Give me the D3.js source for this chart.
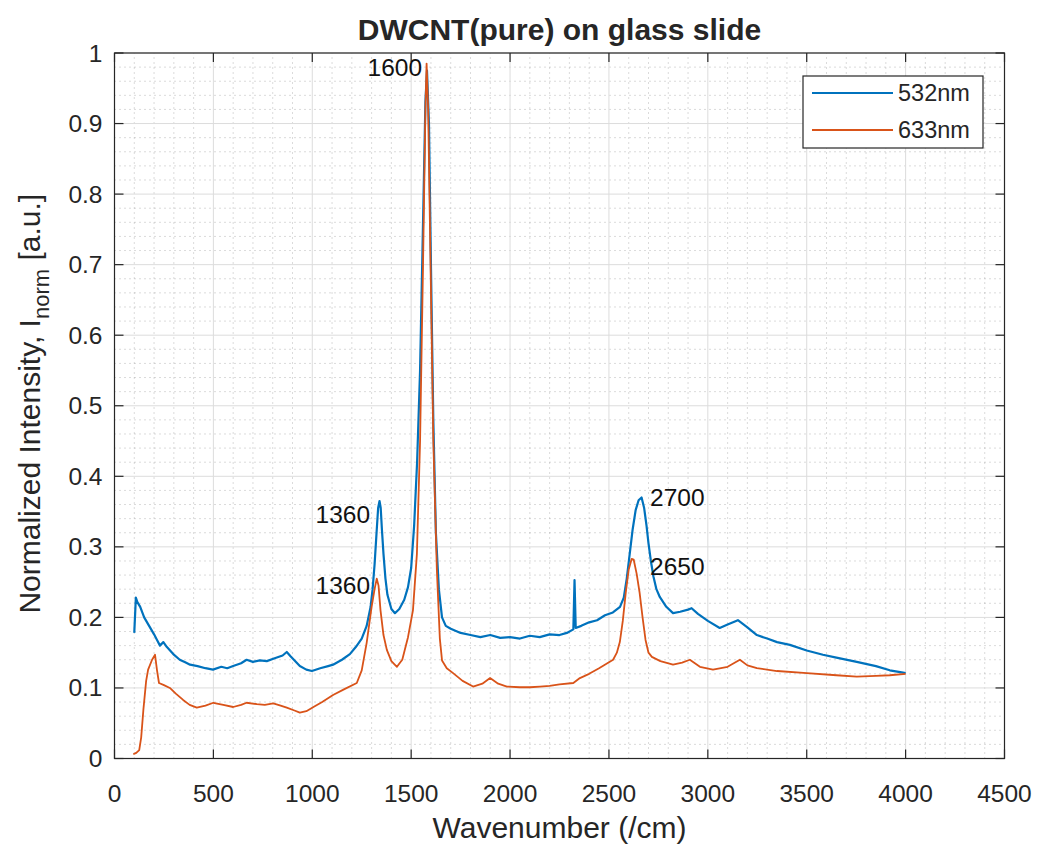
<!DOCTYPE html>
<html>
<head>
<meta charset="utf-8">
<script src="https://cdn.jsdelivr.net/npm/d3@7"></script>
<style>
  body { margin: 0; background: #fff; }
  text { font-family: "Liberation Sans", Arial, sans-serif; fill: #262626; }
</style>
</head>
<body>
<svg id="chart" width="1039" height="844"></svg>
<script>
// Raman spectra: wavenumber (/cm) and normalized intensity
var wave532 = [100, 108, 115, 130, 150, 175, 200, 215, 230, 247, 265, 297, 330, 360, 382, 420, 460, 498, 540, 570,
  600, 640, 668, 700, 735, 770, 810, 850, 871, 890, 937, 970, 998, 1040, 1080, 1105, 1150, 1190, 1220, 1250,
  1275, 1295, 1305, 1315, 1325, 1333, 1340, 1346, 1352, 1360, 1370, 1380, 1400, 1418, 1440, 1465, 1484, 1500, 1515, 1530,
  1545, 1560, 1572, 1580, 1590, 1600, 1612, 1625, 1640, 1656, 1675, 1700, 1750, 1800, 1850, 1900, 1950, 2000, 2050, 2100,
  2150, 2200, 2250, 2287, 2320, 2326, 2332, 2360, 2400, 2440, 2480, 2520, 2556, 2575, 2590, 2605, 2620, 2635, 2650, 2665,
  2678, 2690, 2700, 2712, 2725, 2740, 2757, 2790, 2824, 2860, 2900, 2918, 2950, 3000, 3060, 3100, 3152, 3200, 3248, 3300,
  3350, 3415, 3500, 3582, 3650, 3753, 3850, 3920, 3980, 4000]
var int532 = [0.178, 0.228, 0.222, 0.215, 0.200, 0.188, 0.176, 0.168, 0.160, 0.165, 0.158, 0.148, 0.140, 0.136, 0.133, 0.131, 0.128, 0.126, 0.130, 0.128,
  0.131, 0.135, 0.140, 0.137, 0.139, 0.138, 0.142, 0.146, 0.151, 0.145, 0.131, 0.126, 0.124, 0.128, 0.131, 0.133, 0.140, 0.148, 0.158, 0.170,
  0.188, 0.215, 0.240, 0.275, 0.320, 0.355, 0.365, 0.355, 0.325, 0.290, 0.255, 0.232, 0.212, 0.206, 0.212, 0.225, 0.243, 0.270, 0.330, 0.420,
  0.550, 0.760, 0.930, 0.975, 0.900, 0.700, 0.480, 0.320, 0.240, 0.200, 0.188, 0.184, 0.178, 0.175, 0.172, 0.175, 0.171, 0.172, 0.170, 0.174,
  0.172, 0.176, 0.175, 0.178, 0.183, 0.253, 0.185, 0.188, 0.193, 0.196, 0.203, 0.207, 0.215, 0.228, 0.255, 0.290, 0.325, 0.352, 0.366, 0.370,
  0.355, 0.330, 0.305, 0.280, 0.258, 0.240, 0.229, 0.215, 0.206, 0.208, 0.211, 0.213, 0.205, 0.195, 0.185, 0.190, 0.196, 0.186, 0.175, 0.170,
  0.165, 0.161, 0.153, 0.147, 0.143, 0.137, 0.131, 0.125, 0.122, 0.121]

var wave633 = [95, 110, 125, 135, 146, 160, 170, 190, 205, 215, 225, 250, 280, 310, 347, 380, 416, 460, 500, 550,
  600, 640, 668, 720, 760, 803, 840, 871, 910, 937, 970, 1006, 1050, 1105, 1160, 1225, 1250, 1275, 1300, 1315,
  1326, 1335, 1345, 1360, 1377, 1400, 1428, 1455, 1484, 1509, 1529, 1545, 1560, 1572, 1578, 1586, 1598, 1612, 1630, 1645,
  1656, 1680, 1712, 1760, 1813, 1860, 1899, 1940, 1984, 2050, 2100, 2151, 2200, 2250, 2320, 2353, 2400, 2450, 2521, 2540,
  2555, 2570, 2585, 2600, 2615, 2625, 2640, 2655, 2670, 2685, 2700, 2717, 2760, 2824, 2870, 2909, 2960, 3026, 3100, 3162,
  3200, 3248, 3350, 3501, 3650, 3753, 3850, 3920, 4000]
var int633 = [0.006, 0.008, 0.012, 0.030, 0.069, 0.110, 0.126, 0.140, 0.147, 0.125, 0.107, 0.104, 0.100, 0.092, 0.083, 0.076, 0.072, 0.075, 0.079, 0.076,
  0.073, 0.076, 0.079, 0.077, 0.076, 0.078, 0.075, 0.072, 0.068, 0.065, 0.067, 0.073, 0.080, 0.090, 0.098, 0.107, 0.125, 0.164, 0.215, 0.240,
  0.255, 0.245, 0.210, 0.175, 0.154, 0.138, 0.130, 0.140, 0.172, 0.210, 0.290, 0.450, 0.700, 0.920, 0.985, 0.920, 0.700, 0.450, 0.267, 0.170,
  0.139, 0.128, 0.121, 0.110, 0.102, 0.106, 0.114, 0.106, 0.102, 0.101, 0.101, 0.102, 0.103, 0.105, 0.107, 0.114, 0.120, 0.128, 0.140, 0.150,
  0.165, 0.195, 0.235, 0.268, 0.283, 0.282, 0.262, 0.235, 0.200, 0.168, 0.150, 0.144, 0.138, 0.133, 0.136, 0.140, 0.130, 0.126, 0.130, 0.140,
  0.132, 0.128, 0.124, 0.121, 0.118, 0.116, 0.117, 0.118, 0.120]

var seriesNames = ['532nm', '633nm']
var seriesColors = ['#0072BD', '#D95319']

// peak labels, placed in data units like text(x, y, str)
var peakLabels = ['1600', '1360', '1360', '2700', '2650']
var peakLabelX = [1555, 1292, 1292, 2708, 2708]
var peakLabelY = [0.980, 0.346, 0.245, 0.370, 0.272]
var peakLabelAlign = ['end', 'end', 'end', 'start', 'start']

var xTicks = d3.range(0, 4501, 500)
var yTicks = d3.range(0, 11).map((i) => i / 10)

var W = 1039
,   H = 844
,   margin = {left: 114.5, right: W - 1004.5, top: 53, bottom: H - 758.5}

var svg = d3.select('#chart')

var x = d3.scaleLinear().domain([0, 4500]).range([margin.left, W - margin.right])
var y = d3.scaleLinear().domain([0, 1]).range([H - margin.bottom, margin.top])

var plot = svg.append('g')

// minor grid (dotted)
var xMinor = d3.range(0, 4501, 100).filter((v) => v % 500 !== 0)
var yMinor = d3.range(0, 51).map((i) => i / 50).filter((v, i) => i % 5 !== 0)

plot.selectAll('.gx-minor').data(xMinor).enter().append('line')
  .attr('x1', (d) => x(d)).attr('x2', (d) => x(d))
  .attr('y1', y(0)).attr('y2', y(1))
  .attr('stroke', '#9a9a9a').attr('stroke-width', 1).attr('stroke-dasharray', '1,4')
  .attr('opacity', 0.7)

plot.selectAll('.gy-minor').data(yMinor).enter().append('line')
  .attr('x1', x(0)).attr('x2', x(4500))
  .attr('y1', (d) => y(d)).attr('y2', (d) => y(d))
  .attr('stroke', '#9a9a9a').attr('stroke-width', 1).attr('stroke-dasharray', '1,4')
  .attr('opacity', 0.7)

// major grid
plot.selectAll('.gx').data(xTicks).enter().append('line')
  .attr('x1', (d) => x(d)).attr('x2', (d) => x(d))
  .attr('y1', y(0)).attr('y2', y(1))
  .attr('stroke', '#dcdcdc').attr('stroke-width', 1)

plot.selectAll('.gy').data(yTicks).enter().append('line')
  .attr('x1', x(0)).attr('x2', x(4500))
  .attr('y1', (d) => y(d)).attr('y2', (d) => y(d))
  .attr('stroke', '#dcdcdc').attr('stroke-width', 1)

// spectra
var line = d3.line().x((d) => x(d[0])).y((d) => y(d[1]))
var series = [d3.zip(wave532, int532), d3.zip(wave633, int633)]
var widths = [2.2, 1.8]

series.forEach(function(pts, i) {
  plot.append('path')
    .datum(pts)
    .attr('d', line)
    .attr('fill', 'none')
    .attr('stroke', seriesColors[i])
    .attr('stroke-width', widths[i])
    .attr('stroke-linejoin', 'round')
})

// axes, ticks inward on all four sides (box on)
var tickLen = 9
var axisColor = '#262626'
svg.append('rect')
  .attr('x', x(0)).attr('y', y(1))
  .attr('width', x(4500) - x(0)).attr('height', y(0) - y(1))
  .attr('fill', 'none').attr('stroke', axisColor).attr('stroke-width', 1.2)

var ticksG = svg.append('g').attr('stroke', axisColor).attr('stroke-width', 1.2)
xTicks.forEach(function(v) {
  ticksG.append('line').attr('x1', x(v)).attr('x2', x(v)).attr('y1', y(0)).attr('y2', y(0) - tickLen)
  ticksG.append('line').attr('x1', x(v)).attr('x2', x(v)).attr('y1', y(1)).attr('y2', y(1) + tickLen)
})
yTicks.forEach(function(v) {
  ticksG.append('line').attr('x1', x(0)).attr('x2', x(0) + tickLen).attr('y1', y(v)).attr('y2', y(v))
  ticksG.append('line').attr('x1', x(4500)).attr('x2', x(4500) - tickLen).attr('y1', y(v)).attr('y2', y(v))
})

var fmtY = (d) => d === 0 ? '0' : d === 1 ? '1' : d3.format('.1f')(d)

svg.selectAll('.xt').data(xTicks).enter().append('text')
  .attr('x', (d) => x(d)).attr('y', y(0) + 43)
  .attr('text-anchor', 'middle')
  .style('font-size', '24.5px')
  .text((d) => d)

svg.selectAll('.yt').data(yTicks).enter().append('text')
  .attr('x', x(0) - 12).attr('y', (d) => y(d) + 8.5)
  .attr('text-anchor', 'end')
  .style('font-size', '24.5px')
  .text(fmtY)

// title and axis labels
svg.append('text')
  .attr('x', (x(0) + x(4500)) / 2).attr('y', 40)
  .attr('text-anchor', 'middle')
  .style('font-size', '30px').style('font-weight', 'bold')
  .text('DWCNT(pure) on glass slide')

svg.append('text')
  .attr('x', (x(0) + x(4500)) / 2).attr('y', 838)
  .attr('text-anchor', 'middle')
  .style('font-size', '30px')
  .text('Wavenumber (/cm)')

var yl = svg.append('text')
  .attr('transform', 'translate(40,' + ((y(0) + y(1)) / 2 - 2) + ') rotate(-90)')
  .attr('text-anchor', 'middle')
  .style('font-size', '30px')
yl.append('tspan').text('Normalized Intensity, I')
yl.append('tspan').attr('dy', 9).style('font-size', '22px').text('norm')
yl.append('tspan').attr('dy', -9).text(' [a.u.]')

// peak labels
peakLabels.forEach(function(t, i) {
  svg.append('text')
    .attr('x', x(peakLabelX[i])).attr('y', y(peakLabelY[i]))
    .attr('dy', '0.35em')
    .attr('text-anchor', peakLabelAlign[i])
    .style('font-size', '24.5px').style('fill', '#111')
    .text(t)
})

// legend
var lg = svg.append('g').attr('transform', 'translate(803,76)')
lg.append('rect').attr('width', 180).attr('height', 72)
  .attr('fill', '#fff').attr('stroke', axisColor).attr('stroke-width', 1.2)
seriesNames.forEach(function(name, i) {
  var ly = 17 + i * 37
  lg.append('line').attr('x1', 9).attr('x2', 90).attr('y1', ly).attr('y2', ly)
    .attr('stroke', seriesColors[i]).attr('stroke-width', 2)
  lg.append('text').attr('x', 95).attr('y', ly).attr('dy', '0.35em')
    .style('font-size', '23.5px').text(name)
})
</script>
</body>
</html>
